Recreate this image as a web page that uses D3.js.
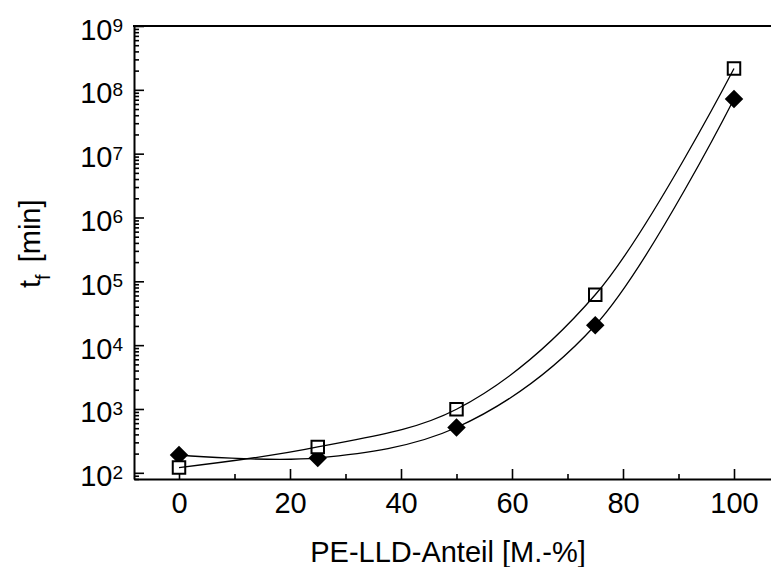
<!DOCTYPE html>
<html>
<head>
<meta charset="utf-8">
<script src="https://cdn.jsdelivr.net/npm/d3@7"></script>
<style>
  html, body { margin: 0; padding: 0; background: #fff; }
  svg { display: block; font-family: "Liberation Sans", Arial, sans-serif; }
</style>
</head>
<body>
<svg id="chart" width="771" height="567"></svg>
<script>
// ---- data ----
const categories = [0, 25, 50, 75, 100];           // PE-LLD-Anteil [M.-%]
const openSquares = [121, 254, 990, 61500, 2.16e8]; // t_f [min], open squares
const filledDiamonds = [190, 171, 513, 20500, 7.2e7]; // t_f [min], filled diamonds
const xTickLabels = [0, 20, 40, 60, 80, 100];
const xMinorTicks = [10, 30, 50, 70, 90];
const yTickExponents = [2, 3, 4, 5, 6, 7, 8, 9];

(function () {
// ---- layout ----
const svg = d3.select("#chart");
const pLeft = 134, pRight = 771, pTop = 26, pBottom = 479;
const pxPerUnit = 5.55, zeroX = 179;

const x = d3.scaleLinear()
  .domain([(pLeft - zeroX) / pxPerUnit, (pRight - zeroX) / pxPerUnit])
  .range([pLeft, pRight]);
const y = d3.scaleLog().domain([80, 1e9]).range([pBottom, pTop]);

// minor y ticks
const yMinor = [];
for (let e = 1; e <= 8; e++) for (let m = 2; m <= 9; m++) {
  const v = m * Math.pow(10, e);
  if (v >= 80 && v <= 1e9) yMinor.push(v);
}

// ---- axes ----
const xAxisG = svg.append("g").attr("transform", `translate(0,${pBottom})`)
  .call(d3.axisBottom(x).tickValues(xTickLabels).tickSize(-10).tickSizeOuter(0).tickPadding(13.4).tickFormat(d3.format("d")));
xAxisG.select(".domain").attr("stroke-width", 2);
xAxisG.selectAll(".tick line").attr("stroke-width", 1.6);
xAxisG.selectAll(".tick text").attr("font-size", 29).attr("fill", "#000")
  .attr("font-family", "Liberation Sans, Arial, sans-serif");

const xMinorG = svg.append("g").attr("transform", `translate(0,${pBottom})`)
  .call(d3.axisBottom(x).tickValues(xMinorTicks).tickSize(-5).tickSizeOuter(0).tickFormat(""));
xMinorG.select(".domain").remove();
xMinorG.selectAll(".tick line").attr("stroke-width", 1.6);

const yAxisG = svg.append("g").attr("transform", `translate(${pLeft},0)`)
  .call(d3.axisLeft(y).tickValues(yTickExponents.map(e => Math.pow(10, e))).tickSize(-10).tickSizeOuter(0).tickFormat(""));
yAxisG.select(".domain").attr("stroke-width", 2);
yAxisG.selectAll(".tick line").attr("stroke-width", 1.6);

const yMinorG = svg.append("g").attr("transform", `translate(${pLeft},0)`)
  .call(d3.axisLeft(y).tickValues(yMinor).tickSize(-5).tickSizeOuter(0).tickFormat(""));
yMinorG.select(".domain").remove();
yMinorG.selectAll(".tick line").attr("stroke-width", 1.6);

// top frame line
svg.append("line").attr("x1", pLeft - 1).attr("x2", pRight).attr("y1", pTop).attr("y2", pTop)
  .attr("stroke", "#000").attr("stroke-width", 2.2);

// y tick labels 10^n
const yLab = svg.append("g");
yTickExponents.forEach(e => {
  const t = yLab.append("text")
    .attr("x", 123).attr("y", y(Math.pow(10, e)) + 13.5)
    .attr("text-anchor", "end").attr("font-size", 29).attr("fill", "#000");
  t.append("tspan").text("10");
  t.append("tspan").attr("font-size", 19).attr("dy", -7.6).text(e);
});

// axis titles
svg.append("text").attr("x", 448).attr("y", 561.5).attr("text-anchor", "middle")
  .attr("font-size", 29).attr("fill", "#000").text("PE-LLD-Anteil [M.-%]");

const yt = svg.append("text").attr("transform", "translate(40,288) rotate(-90)")
  .attr("font-size", 29).attr("fill", "#000");
yt.append("tspan").text("t");
yt.append("tspan").attr("font-size", 20).attr("dy", 10).text("f");
yt.append("tspan").attr("dy", -10).attr("dx", 4).text(" [min]");

// ---- marks ----
const line = d3.line().x(d => x(d[0])).y(d => y(d[1])).curve(d3.curveCatmullRom.alpha(0.5));
const sqData = categories.map((c, i) => [c, openSquares[i]]);
const diData = categories.map((c, i) => [c, filledDiamonds[i]]);

svg.append("g").selectAll("path").data(diData).join("path")
  .attr("d", d3.symbol().type(d3.symbolSquare).size(172)())
  .attr("transform", d => `translate(${x(d[0])},${y(d[1])}) rotate(45)`)
  .attr("fill", "#000");

svg.append("g").selectAll("path").data(sqData).join("path")
  .attr("d", d3.symbol().type(d3.symbolSquare).size(156)())
  .attr("transform", d => `translate(${x(d[0])},${y(d[1])})`)
  .attr("fill", "#fff").attr("stroke", "#000").attr("stroke-width", 2);

[sqData, diData].forEach(data => {
  svg.append("path").datum(data).attr("d", line)
    .attr("fill", "none").attr("stroke", "#000").attr("stroke-width", 1.3);
});
})();
</script>
</body>
</html>
